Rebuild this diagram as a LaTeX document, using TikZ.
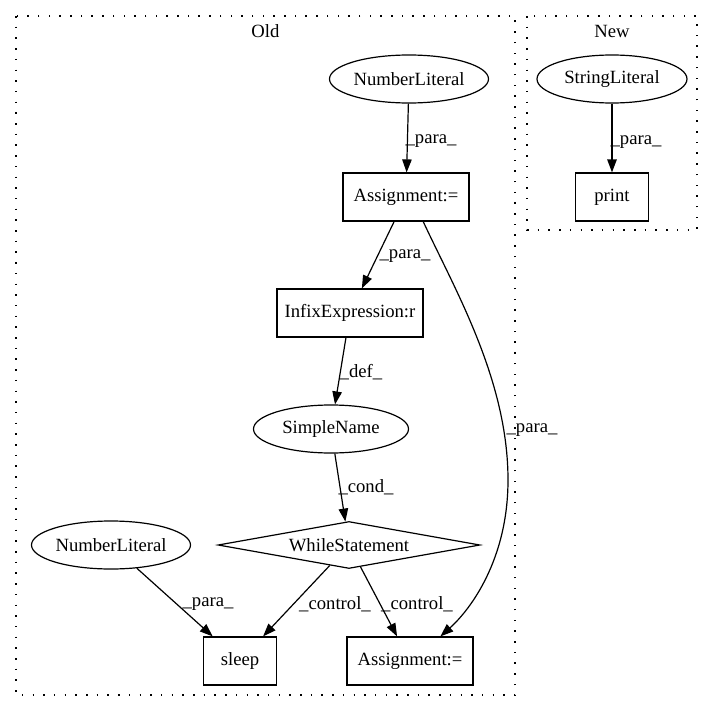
\documentclass[tikz,border=0pt]{standalone}
\usepackage{fontspec}
\setmainfont{Liberation Serif}
\usetikzlibrary{shapes.geometric,arrows.meta}
\begin{document}
\begin{tikzpicture}[x=1pt,y=-1pt,
  every node/.style={font=\fontsize{18.67}{22}\selectfont},
  ell/.style={draw,ellipse,line width=1.2pt,minimum width=159pt,minimum height=48pt,inner sep=0pt},
  box/.style={draw,rectangle,line width=1.2pt,minimum height=48pt,inner sep=0pt},
  dia/.style={draw,diamond,line width=1.2pt,minimum width=262pt,minimum height=47pt,inner sep=0pt,shape aspect=5.6},
  edge/.style={line width=1.2pt,-{Triangle[length=13pt,width=9.5pt]}},
  lbl/.style={inner sep=0pt},
  clus/.style={line width=1.2pt,dash pattern=on 1.5pt off 9.2pt}]
\useasboundingbox (0,0) rectangle (713,712);
% clusters
\draw[clus] (16,16) rectangle (515,695);
\draw[clus] (527,16) rectangle (697,230);
\node[lbl] (told) at (265.5,31) {Old};
\node[lbl] (tnew) at (612,31) {New};
% nodes
\node[ell] (nl1) at (409,79) {NumberLiteral};
\node[box,minimum width=126pt] (a1) at (406,197) {Assignment:=};
\node[box,minimum width=146pt] (inf) at (350,313) {InfixExpression:r};
\node[ell,minimum width=155pt] (sn) at (331,429) {SimpleName};
\node[dia] (ws) at (349,545) {WhileStatement};
\node[ell] (nl2) at (111,545) {NumberLiteral};
\node[box,minimum width=73pt] (sl) at (240,661) {sleep};
\node[box,minimum width=126pt] (a2) at (410,661) {Assignment:=};
\node[ell,minimum width=150pt] (str) at (612,79) {StringLiteral};
\node[box,minimum width=73pt] (pr) at (612,197) {print};
% edges
\draw[edge] (nl1) -- (a1);
\draw[edge] (a1) -- (inf);
\draw[edge] (inf) -- (sn);
\draw[edge] (sn) -- (ws);
\draw[edge] (nl2) -- (sl);
\draw[edge] (ws) -- (sl);
\draw[edge] (ws) -- (a2);
\draw[edge] (a1.-55) .. controls (455,290) and (508,380) .. (508,480) .. controls (508,560) and (470,610) .. (a2.39);
\draw[edge] (str) -- (pr);
% labels
\node[lbl] (l1) at (431,141) {\_para\_};
\node[lbl] (l2) at (636,142) {\_para\_};
\node[lbl] (l3) at (405,256) {\_para\_};
\node[lbl] (l4) at (361,372) {\_def\_};
\node[lbl] (l5) at (532,430) {\_para\_};
\node[lbl] (l6) at (366,487) {\_cond\_};
\node[lbl] (l7) at (208,604) {\_para\_};
\node[lbl] (l8) at (335,604) {\_control\_};
\node[lbl] (l9) at (417,604) {\_control\_};
\end{tikzpicture}
\end{document}
